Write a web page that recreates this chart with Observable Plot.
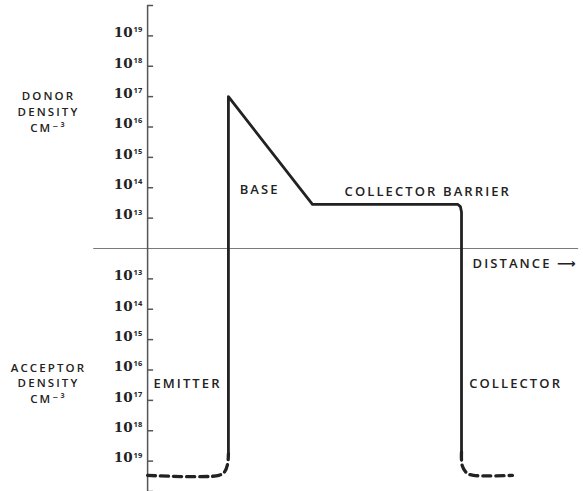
<!DOCTYPE html>
<html>
<head>
<meta charset="utf-8">
<script src="https://cdn.jsdelivr.net/npm/d3@7"></script>
<script src="https://cdn.jsdelivr.net/npm/@observablehq/plot@0.6"></script>
<style>
  html, body { margin: 0; padding: 0; background: #fff; }
  #chart svg { display: block; }
</style>
</head>
<body>
<div id="chart"></div>
<script>
// Signed decades above/below the 10^12 baseline: + donor, − acceptor
const tickValues = [1, 2, 3, 4, 5, 6, 7, -1, -2, -3, -4, -5, -6, -7];
const tickBase = "10";
const tickExponents = ["13","14","15","16","17","18","19","13","14","15","16","17","18","19"];
const endTicks = [8, -8];

// Impurity profile (distance, signed log density − 12)
const solidDistance = [15.0, 15.0, 30.6, 57.6, 58.05, 58.26, 58.26];
const solidDensity  = [-6.75, 5.0, 1.45, 1.45, 1.38, 1.2, -6.7];
const emitterDistance = [0, 13.2, 14.3, 14.85, 15.0];
const emitterDensity  = [-7.47, -7.47, -7.35, -7.1, -6.75];
const collectorDistance = [58.26, 58.4, 59.3, 60.5, 67.7];
const collectorDensity  = [-6.7, -7.15, -7.4, -7.47, -7.47];

// Region annotations
const regionNames = ["BASE", "COLLECTOR BARRIER", "EMITTER", "COLLECTOR"];
const regionDistance = [20.8, 52.0, 7.4, 68.3];
const regionDensity = [1.94, 1.88, -4.44, -4.44];

// Side titles, one entry per line
const sideLines = ["DONOR", "DENSITY", "CM⁻³", "ACCEPTOR", "DENSITY", "CM⁻³"];
const sideDensity = [5.0, 4.49, 3.97, -3.93, -4.44, -4.96];

const toRows = (xs, ys) => xs.map((x, i) => ({x, y: ys[i]}));
const solid = toRows(solidDistance, solidDensity);
const emitter = toRows(emitterDistance, emitterDensity);
const collector = toRows(collectorDistance, collectorDensity);
const ticks = tickValues.map((v, i) => ({v, exp: tickExponents[i]}));
const allTicks = tickValues.concat(endTicks);
const regions = regionNames.map((t, i) => ({t, x: regionDistance[i], y: regionDensity[i]}));
const sides = sideLines.map((t, i) => ({t, y: sideDensity[i]}));

const W = 583, H = 491;
const xDomain = [-27.3, 80.9];
const pxPerUnit = W / (xDomain[1] - xDomain[0]);
const tickLen = 6 / pxPerUnit;
const ink = "#222";
const font = "'Open Sans', 'DejaVu Sans', sans-serif";

const chart = Plot.plot({
  width: W,
  height: H,
  marginTop: 5,
  marginBottom: 0,
  marginLeft: 0,
  marginRight: 0,
  style: {fontFamily: font, background: "#fff"},
  x: {domain: xDomain, axis: null},
  y: {domain: [-8, 8], axis: null},
  marks: [
    // baseline (distance axis)
    Plot.ruleY([0], {x1: -10, x2: 80, stroke: "#7a7a7a", strokeWidth: 1.1}),
    // density axis
    Plot.ruleX([0], {y1: -8, y2: 8, stroke: "#555", strokeWidth: 1.5}),
    Plot.ruleY(allTicks, {y: d => d, x1: 0, x2: tickLen, stroke: "#555", strokeWidth: 1.5}),
    Plot.text(ticks, {x: 0, y: "v", text: () => tickBase, textAnchor: "end", dx: -15, dy: -3, fontSize: 13.5, fill: ink, fontWeight: 600, fontFamily: "'DejaVu Serif', serif"}),
    Plot.text(ticks, {x: 0, y: "v", text: "exp", textAnchor: "start", dx: -14, dy: -6, fontSize: 7.5, fill: ink, fontWeight: 700}),
    // profile
    Plot.line(solid, {x: "x", y: "y", stroke: ink, strokeWidth: 2.8, strokeLinejoin: "round"}),
    Plot.line(emitter, {x: "x", y: "y", stroke: ink, strokeWidth: 3.3, strokeDasharray: "8,5", curve: "catmull-rom"}),
    Plot.line(collector, {x: "x", y: "y", stroke: ink, strokeWidth: 3.3, strokeDasharray: "8,5", curve: "catmull-rom"}),
    // annotations
    Plot.text(regions, {x: "x", y: "y", text: "t", fontSize: 13, fontWeight: 600, fill: ink, textAnchor: "middle"}),
    Plot.text(["DISTANCE ⟶"], {x: 60.3, y: -0.49, text: d => d, fontSize: 13, fontWeight: 600, fill: ink, textAnchor: "start"}),
    Plot.text(sides, {x: -18.4, y: "y", text: "t", fontSize: 11.5, fontWeight: 600, fill: ink, textAnchor: "middle"})
  ]
});
document.getElementById("chart").appendChild(chart);
// letter-spacing on word labels (not on the tick numbers)
d3.select(chart).selectAll("g[aria-label='text'] text").filter(function() {
  return /[A-Z]/.test(this.textContent);
}).style("letter-spacing", "2.1px");
</script>
</body>
</html>
